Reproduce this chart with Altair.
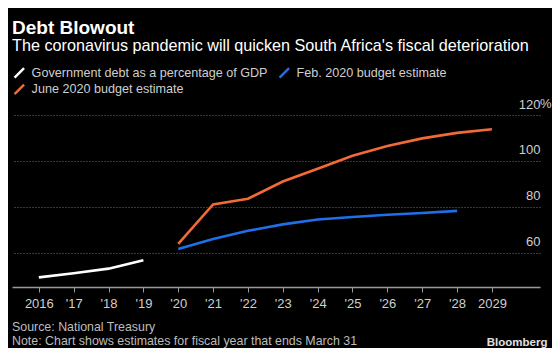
import altair as alt
import pandas as pd

# ---- data ----
gov_years = [2016, 2017, 2018, 2019]
gov_debt = [49.2, 51.0, 53.0, 56.7]

feb_years = [2020, 2021, 2022, 2023, 2024, 2025, 2026, 2027, 2028]
feb_debt = [61.6, 65.9, 69.5, 72.3, 74.4, 75.5, 76.5, 77.3, 78.2]

june_years = [2020, 2021, 2022, 2023, 2024, 2025, 2026, 2027, 2028, 2029]
june_debt = [63.8, 81.0, 83.5, 91.0, 96.6, 102.2, 106.5, 109.8, 112.2, 113.8]

series_names = ["Government debt as a percentage of GDP",
                "Feb. 2020 budget estimate",
                "June 2020 budget estimate"]
series_colors = ["#ffffff", "#1f6fe8", "#f26a36"]
# legend fills column by column: this order gives Gov | Feb on row 1, June on row 2
legend_order = [0, 2, 1]

x_ticks = list(range(2016, 2030))
y_ticks = [60, 80, 100, 120]

title_text = "Debt Blowout"
subtitle_text = "The coronavirus pandemic will quicken South Africa's fiscal deterioration"
source_text = "Source: National Treasury"
note_text = "Note: Chart shows estimates for fiscal year that ends March 31"
brand_text = "Bloomberg"

rows = []
for name, ys, vs in zip(series_names, [gov_years, feb_years, june_years],
                        [gov_debt, feb_debt, june_debt]):
    for y, v in zip(ys, vs):
        rows.append({"year": y, "debt": v, "series": name})
df = pd.DataFrame(rows)

W, H = 528, 172
FONT = "Liberation Sans"

x_scale = alt.Scale(domain=[2015.23, 2030.38], nice=False, zero=False)
y_scale = alt.Scale(domain=[45, 120], nice=False, zero=False)

dom = [series_names[i] for i in legend_order]
rng = [series_colors[i] for i in legend_order]

lines = alt.Chart(df).mark_line(strokeWidth=2.6).encode(
    x=alt.X("year:Q", scale=x_scale, title=None,
            axis=alt.Axis(values=x_ticks, format="d", grid=False,
                          domainColor="#9a9a9a", domainWidth=1.5,
                          tickColor="#9a9a9a", tickSize=5, tickWidth=1,
                          labelColor="#cfcfcf", labelFontSize=13, labelFont=FONT,
                          labelPadding=5,
                          labelExpr="(datum.value == 2016 || datum.value == 2029) ? datum.label : \"'\" + slice(datum.label, 2)")),
    y=alt.Y("debt:Q", scale=y_scale, title=None,
            axis=alt.Axis(orient="right", values=y_ticks, domain=False, ticks=False,
                          grid=True, gridColor="#707070", gridDash=[1, 2], gridWidth=1,
                          labelAlign="right", labelBaseline="alphabetic", labelOffset=-7,
                          labelPadding=0, labelColor="#cfcfcf", labelFontSize=13,
                          labelFont=FONT)),
    color=alt.Color("series:N",
                    scale=alt.Scale(domain=dom, range=rng),
                    legend=alt.Legend(title=None, orient="none", legendX=1, legendY=-49,
                                      columns=2, columnPadding=6, rowPadding=-9,
                                      symbolType="M-1,1L1,-1", symbolSize=90,
                                      symbolStrokeWidth=2.5, symbolFillColor="transparent",
                                      labelColor="#cfcfcf", labelFontSize=12.6, labelFont=FONT,
                                      labelOffset=6, labelLimit=0, padding=0)),
    order="year:Q",
    detail="series:N",
)

pct = alt.Chart(pd.DataFrame({"v": [y_ticks[-1]], "t": ["%"]})).mark_text(
    align="left", baseline="alphabetic", dy=-7, fontSize=13, font=FONT, color="#cfcfcf"
).encode(x=alt.value(W), y=alt.Y("v:Q", scale=y_scale), text="t:N")


def label(txt, x, y, size, color, weight="normal", align="left"):
    return alt.Chart(pd.DataFrame({"t": [txt]})).mark_text(
        align=align, baseline="middle", fontSize=size, font=FONT, color=color,
        fontWeight=weight
    ).encode(x=alt.value(x), y=alt.value(y), text="t:N")


texts = [
    label(title_text, 0, -87, 19, "#ffffff", "bold"),
    label(subtitle_text, 0, -69, 16.2, "#ffffff"),
    label(source_text, 0, 212, 12.4, "#bdbdbd"),
    label(note_text, 0, 225.5, 12.4, "#bdbdbd"),
    label(brand_text, 535.5, 228, 11.5, "#e0e0e0", "bold", "right"),
]

chart = alt.layer(lines, pct, *texts).properties(
    width=W, height=H,
    background="#000000",
    padding={"left": 4, "top": 107, "right": 12, "bottom": 61},
    autosize=alt.AutoSizeParams(type="none"),
).configure_view(stroke=None)

chart.save("out.html", embed_options={"renderer": "svg", "actions": False})
